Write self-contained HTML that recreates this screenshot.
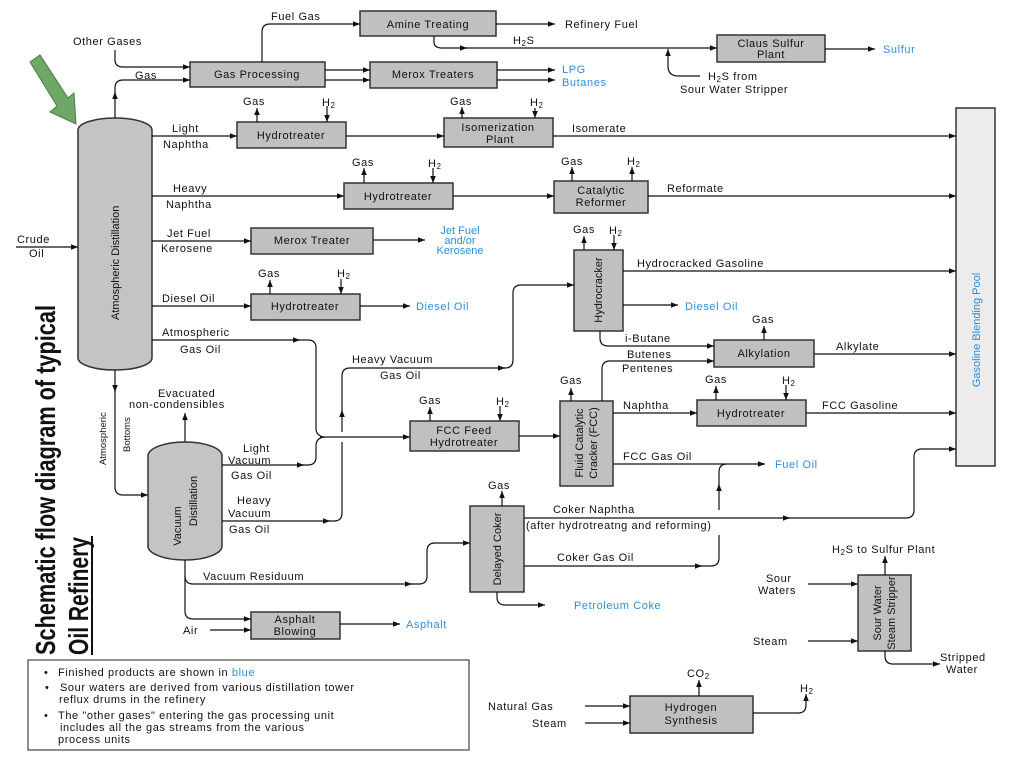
<!DOCTYPE html>
<html><head><meta charset="utf-8"><style>
body{margin:0;background:#fff}
svg{display:block}
text{font-family:"Liberation Sans",sans-serif;font-size:11px;letter-spacing:0.6px;fill:#111}
.b{fill:#2a8ee0}
.bx{fill:#c0c0c0;stroke:#333;stroke-width:1.5}
.c{text-anchor:middle}
path,line{stroke:#111;stroke-width:1.2;fill:none}
path.ah{fill:#111;stroke:none}
</style></head><body>
<svg width="1024" height="768" viewBox="0 0 1024 768" xmlns="http://www.w3.org/2000/svg">
<defs><marker id="a" viewBox="0 0 10 10" refX="10" refY="5" markerWidth="10" markerHeight="7" orient="auto" markerUnits="userSpaceOnUse"><path class="ah" d="M0,1 L10,5 L0,9 z"/></marker></defs>

<!-- green arrow -->
<polygon points="30,62 40,55 68,98 74,93 76,124 50,112 57,106" fill="#6fa866" stroke="#4d7a48" stroke-width="1"/>

<!-- title -->
<text transform="translate(55,655) rotate(-90)" textLength="350" lengthAdjust="spacingAndGlyphs" style="font-size:28px;font-weight:bold;letter-spacing:0">Schematic flow diagram of typical</text>
<text transform="translate(88,655) rotate(-90)" textLength="118" lengthAdjust="spacingAndGlyphs" style="font-size:28px;font-weight:bold;letter-spacing:0">Oil Refinery</text>
<line x1="92" y1="536" x2="92" y2="655" style="stroke-width:2"/>

<!-- columns -->
<rect x="78" y="118" width="74" height="252" rx="37" ry="12" class="bx" style="fill:#c4c4c4"/>
<text transform="translate(119,320) rotate(-90)" style="font-size:11px;letter-spacing:0">Atmospheric  Distillation</text>
<rect x="148" y="442" width="74" height="118" rx="37" ry="14" class="bx" style="fill:#c4c4c4"/>
<text transform="translate(181,526) rotate(-90)" class="c" style="font-size:11px;letter-spacing:0">Vacuum</text>
<text transform="translate(197,501) rotate(-90)" class="c" style="font-size:11px;letter-spacing:0">Distillation</text>

<!-- boxes -->
<rect x="360" y="11" width="136" height="25" class="bx"/><text x="428" y="28" class="c">Amine Treating</text>
<rect x="190" y="62" width="135" height="25" class="bx"/><text x="257" y="78" class="c">Gas Processing</text>
<rect x="370" y="62" width="127" height="26" class="bx"/><text x="433" y="78" class="c">Merox Treaters</text>
<rect x="717" y="35" width="108" height="27" class="bx"/><text x="771" y="47" class="c">Claus Sulfur</text><text x="771" y="58" class="c">Plant</text>
<rect x="237" y="122" width="109" height="26" class="bx"/><text x="291" y="139" class="c">Hydrotreater</text>
<rect x="444" y="118" width="109" height="29" class="bx"/><text x="498" y="131" class="c">Isomerization</text><text x="500" y="143" class="c">Plant</text>
<rect x="344" y="183" width="109" height="26" class="bx"/><text x="398" y="200" class="c">Hydrotreater</text>
<rect x="554" y="181" width="94" height="32" class="bx"/><text x="601" y="194" class="c">Catalytic</text><text x="601" y="206" class="c">Reformer</text>
<rect x="251" y="228" width="122" height="26" class="bx"/><text x="312" y="244" class="c">Merox Treater</text>
<rect x="251" y="294" width="109" height="26" class="bx"/><text x="305" y="310" class="c">Hydrotreater</text>
<rect x="956" y="108" width="39" height="358" style="fill:#ececec;stroke:#333;stroke-width:1.5"/>
<text transform="translate(980,330) rotate(-90)" class="c b" style="letter-spacing:0">Gasoline Blending Pool</text>
<rect x="574" y="250" width="49" height="81" class="bx"/><text transform="translate(602,290) rotate(-90)" class="c" style="letter-spacing:0">Hydrocracker</text>
<rect x="714" y="340" width="100" height="27" class="bx"/><text x="764" y="357" class="c">Alkylation</text>
<rect x="410" y="421" width="109" height="30" class="bx"/><text x="464" y="434" class="c">FCC Feed</text><text x="464" y="446" class="c">Hydrotreater</text>
<rect x="560" y="401" width="53" height="85" class="bx"/>
<text transform="translate(583,443) rotate(-90)" class="c" style="letter-spacing:0">Fluid Catalytic</text>
<text transform="translate(597,443) rotate(-90)" class="c" style="letter-spacing:0">Cracker (FCC)</text>
<rect x="697" y="400" width="109" height="26" class="bx"/><text x="751" y="417" class="c">Hydrotreater</text>
<rect x="470" y="506" width="54" height="86" class="bx"/><text transform="translate(501,549) rotate(-90)" class="c" style="letter-spacing:0">Delayed Coker</text>
<rect x="251" y="612" width="89" height="27" class="bx"/><text x="295" y="623" class="c">Asphalt</text><text x="295" y="635" class="c">Blowing</text>
<rect x="858" y="575" width="53" height="76" class="bx"/>
<text transform="translate(881,613) rotate(-90)" class="c" style="letter-spacing:0">Sour Water</text>
<text transform="translate(895,613) rotate(-90)" class="c" style="letter-spacing:0">Steam Stripper</text>
<rect x="630" y="696" width="123" height="37" class="bx"/><text x="691" y="711" class="c">Hydrogen</text><text x="691" y="724" class="c">Synthesis</text>

<!-- legend -->
<rect x="28" y="660" width="441" height="90" style="fill:#fff;stroke:#444;stroke-width:1.2"/>
<text x="44" y="676">•</text><text x="58" y="676">Finished products are shown in <tspan class="b">blue</tspan></text>
<text x="45" y="691">•</text><text x="60" y="691">Sour waters are derived from various distillation tower</text>
<text x="59" y="703">reflux drums in the refinery</text>
<text x="44" y="719">•</text><text x="58" y="719">The "other gases" entering the gas processing unit</text>
<text x="60" y="731">includes all the gas streams from the various</text>
<text x="58" y="743">process units</text>

<!-- connectors -->
<path d="M16,247 H78" marker-end="url(#a)"/><text x="17" y="243">Crude</text><text x="29" y="257">Oil</text>
<path d="M115,118 V92" marker-end="url(#a)"/><path d="M115,94 V88 Q115,80 123,80 H190" marker-end="url(#a)"/><text x="135" y="79">Gas</text>
<text x="73" y="45">Other Gases</text><path d="M115,50 V60 Q115,67 123,67 H190" marker-end="url(#a)"/>
<path d="M262,62 V32 Q262,24 270,24 H360" marker-end="url(#a)"/><text x="271" y="20">Fuel  Gas</text>
<path d="M496,24 H555" marker-end="url(#a)"/><text x="565" y="28">Refinery Fuel</text>
<path d="M434,36 V42 Q434,48 442,48 H467" marker-end="url(#a)"/><path d="M466,48 H717" marker-end="url(#a)"/><text x="513" y="44">H<tspan style="font-size:8px" dy="2">2</tspan><tspan dy="-2">S</tspan></text>
<path d="M700,76 H678 Q668,76 668,66 V49" marker-end="url(#a)"/><text x="708" y="80">H<tspan style="font-size:8px" dy="2">2</tspan><tspan dy="-2">S from</tspan></text><text x="680" y="93">Sour Water Stripper</text>
<path d="M825,49 H875" marker-end="url(#a)"/><text x="883" y="53" class="b">Sulfur</text>
<path d="M325,70 H370" marker-end="url(#a)"/><path d="M325,80 H370" marker-end="url(#a)"/>
<path d="M497,70 H555" marker-end="url(#a)"/><path d="M497,80 H555" marker-end="url(#a)"/>
<text x="562" y="73" class="b">LPG</text><text x="562" y="86" class="b">Butanes</text>

<path d="M152,136 H237" marker-end="url(#a)"/><text x="172" y="132">Light</text><text x="163" y="148">Naphtha</text>
<path d="M346,136 H444" marker-end="url(#a)"/>
<path d="M257,122 V108" marker-end="url(#a)"/><text x="243" y="105">Gas</text>
<path d="M327,106 V122" marker-end="url(#a)"/><text x="322" y="106">H<tspan style="font-size:8px" dy="2">2</tspan></text>
<path d="M462,118 V107" marker-end="url(#a)"/><text x="450" y="105">Gas</text>
<path d="M535,108 V118" marker-end="url(#a)"/><text x="530" y="106">H<tspan style="font-size:8px" dy="2">2</tspan></text>
<path d="M553,136 H956" marker-end="url(#a)"/><text x="572" y="132">Isomerate</text>

<path d="M152,196 H344" marker-end="url(#a)"/><text x="173" y="192">Heavy</text><text x="166" y="208">Naphtha</text>
<path d="M364,183 V168" marker-end="url(#a)"/><text x="352" y="166">Gas</text>
<path d="M433,168 V183" marker-end="url(#a)"/><text x="428" y="167">H<tspan style="font-size:8px" dy="2">2</tspan></text>
<path d="M453,196 H554" marker-end="url(#a)"/>
<path d="M572,181 V167" marker-end="url(#a)"/><text x="561" y="165">Gas</text>
<path d="M632,181 V167" marker-end="url(#a)"/><text x="627" y="165">H<tspan style="font-size:8px" dy="2">2</tspan></text>
<path d="M648,196 H956" marker-end="url(#a)"/><text x="667" y="192">Reformate</text>

<path d="M152,241 H251" marker-end="url(#a)"/><text x="167" y="237">Jet Fuel</text><text x="161" y="252">Kerosene</text>
<path d="M373,240 H425" marker-end="url(#a)"/>
<text x="460" y="234" class="c b" style="letter-spacing:0">Jet Fuel</text><text x="460" y="244" class="c b" style="letter-spacing:0">and/or</text><text x="460" y="254" class="c b" style="letter-spacing:0">Kerosene</text>

<path d="M152,306 H251" marker-end="url(#a)"/><text x="162" y="302">Diesel Oil</text>
<path d="M270,294 V280" marker-end="url(#a)"/><text x="258" y="277">Gas</text>
<path d="M341,279 V294" marker-end="url(#a)"/><text x="337" y="277">H<tspan style="font-size:8px" dy="2">2</tspan></text>
<path d="M360,306 H410" marker-end="url(#a)"/><text x="416" y="310" class="b">Diesel Oil</text>

<path d="M152,340 H300"  marker-end="url(#a)"/><path d="M298,340 H308 Q316,340 316,348 V428 Q316,436 324,437"/>
<text x="162" y="336">Atmospheric</text><text x="180" y="353">Gas Oil</text>
<path d="M320,437 H410" marker-end="url(#a)"/>
<path d="M222,465 H304" marker-end="url(#a)"/><path d="M302,465 H308 Q316,465 316,457 V446 Q316,438 324,437"/>
<text x="243" y="452">Light</text><text x="228" y="464">Vacuum</text><text x="231" y="479">Gas Oil</text>
<path d="M222,521 H330" marker-end="url(#a)"/><path d="M328,521 H334 Q342,521 342,513 V442"/>
<path d="M342,432 V410" marker-end="url(#a)"/><path d="M342,412 V376 Q342,368 350,368 H505" marker-end="url(#a)"/>
<path d="M503,368 H505 Q513,368 513,360 V293 Q513,285 521,285 H574" marker-end="url(#a)"/>
<text x="237" y="504">Heavy</text><text x="228" y="517">Vacuum</text><text x="229" y="533">Gas Oil</text>
<text x="352" y="363">Heavy Vacuum</text><text x="380" y="379">Gas Oil</text>

<path d="M115,370 V392" marker-end="url(#a)"/><path d="M115,390 V487 Q115,495 123,495 H148" marker-end="url(#a)"/>
<text transform="translate(106,465) rotate(-90)" style="font-size:9.5px;letter-spacing:0">Atmospheric</text>
<text transform="translate(130,452) rotate(-90)" style="font-size:9.5px;letter-spacing:0">Bottoms</text>
<path d="M185,442 V413" marker-end="url(#a)"/><text x="158" y="397">Evacuated</text><text x="129" y="408">non-condensibles</text>
<path d="M185,560 V576 Q185,584 193,584 H412" marker-end="url(#a)"/><path d="M410,584 H419 Q427,584 427,576 V551 Q427,543 435,543 H470" marker-end="url(#a)"/>
<text x="203" y="580">Vacuum Residuum</text>
<path d="M185,576 V611 Q185,619 193,619 H251" marker-end="url(#a)"/>
<path d="M210,630 H251" marker-end="url(#a)"/><text x="183" y="634">Air</text>
<path d="M340,624 H400" marker-end="url(#a)"/><text x="406" y="628" class="b">Asphalt</text>

<path d="M584,250 V236" marker-end="url(#a)"/><text x="573" y="233">Gas</text>
<path d="M614,235 V250" marker-end="url(#a)"/><text x="609" y="234">H<tspan style="font-size:8px" dy="2">2</tspan></text>
<path d="M623,271 H956" marker-end="url(#a)"/><text x="637" y="267">Hydrocracked Gasoline</text>
<path d="M623,305 H678" marker-end="url(#a)"/><text x="685" y="310" class="b">Diesel Oil</text>
<path d="M600,331 V338 Q600,346 608,346 H714" marker-end="url(#a)"/><text x="625" y="342">i-Butane</text>
<path d="M602,401 V369 Q602,361 610,361 H714" marker-end="url(#a)"/><text x="627" y="358">Butenes</text><text x="622" y="372">Pentenes</text>
<path d="M571,401 V388" marker-end="url(#a)"/><text x="560" y="384">Gas</text>
<path d="M764,340 V326" marker-end="url(#a)"/><text x="752" y="323">Gas</text>
<path d="M814,354 H956" marker-end="url(#a)"/><text x="836" y="350">Alkylate</text>
<path d="M430,421 V407" marker-end="url(#a)"/><text x="419" y="404">Gas</text>
<path d="M500,406 V421" marker-end="url(#a)"/><text x="496" y="405">H<tspan style="font-size:8px" dy="2">2</tspan></text>
<path d="M519,436 H560" marker-end="url(#a)"/>
<path d="M613,413 H697" marker-end="url(#a)"/><text x="623" y="409">Naphtha</text>
<path d="M716,400 V386" marker-end="url(#a)"/><text x="705" y="383">Gas</text>
<path d="M786,385 V400" marker-end="url(#a)"/><text x="782" y="384">H<tspan style="font-size:8px" dy="2">2</tspan></text>
<path d="M806,413 H956" marker-end="url(#a)"/><text x="822" y="409">FCC Gasoline</text>
<path d="M613,464 H765" marker-end="url(#a)"/><text x="623" y="460">FCC Gas Oil</text><text x="775" y="468" class="b">Fuel Oil</text>

<path d="M502,506 V491" marker-end="url(#a)"/><text x="488" y="489">Gas</text>
<path d="M524,518 H790" marker-end="url(#a)"/><path d="M788,518 H906 Q914,518 914,510 V457 Q914,449 922,449 H956" marker-end="url(#a)"/>
<text x="553" y="513">Coker Naphtha</text><text x="526" y="529">(after hydrotreatng and reforming)</text>
<path d="M524,566 H702" marker-end="url(#a)"/><path d="M700,566 H711 Q719,566 719,558 V535"/>
<path d="M719,510 V484" marker-end="url(#a)"/><path d="M719,486 V472 Q719,464 727,464"/>
<text x="557" y="561">Coker Gas Oil</text>
<path d="M497,592 V597 Q497,605 505,605 H545" marker-end="url(#a)"/><text x="574" y="609" class="b">Petroleum Coke</text>

<path d="M808,584 H858" marker-end="url(#a)"/><text x="766" y="582">Sour</text><text x="758" y="594">Waters</text>
<path d="M808,641 H858" marker-end="url(#a)"/><text x="753" y="645">Steam</text>
<path d="M885,575 V556" marker-end="url(#a)"/><text x="832" y="553">H<tspan style="font-size:8px" dy="2">2</tspan><tspan dy="-2">S to Sulfur Plant</tspan></text>
<path d="M885,651 V656 Q885,664 893,664 H940" marker-end="url(#a)"/><text x="940" y="661">Stripped</text><text x="946" y="673">Water</text>
<path d="M585,706 H630" marker-end="url(#a)"/><text x="488" y="710">Natural Gas</text>
<path d="M585,723 H630" marker-end="url(#a)"/><text x="532" y="727">Steam</text>
<path d="M699,696 V680" marker-end="url(#a)"/><text x="687" y="677">CO<tspan style="font-size:8px" dy="2">2</tspan></text>
<path d="M753,713 H798 Q806,713 806,705 V694" marker-end="url(#a)"/><text x="800" y="692">H<tspan style="font-size:8px" dy="2">2</tspan></text>
</svg>
</body></html>
